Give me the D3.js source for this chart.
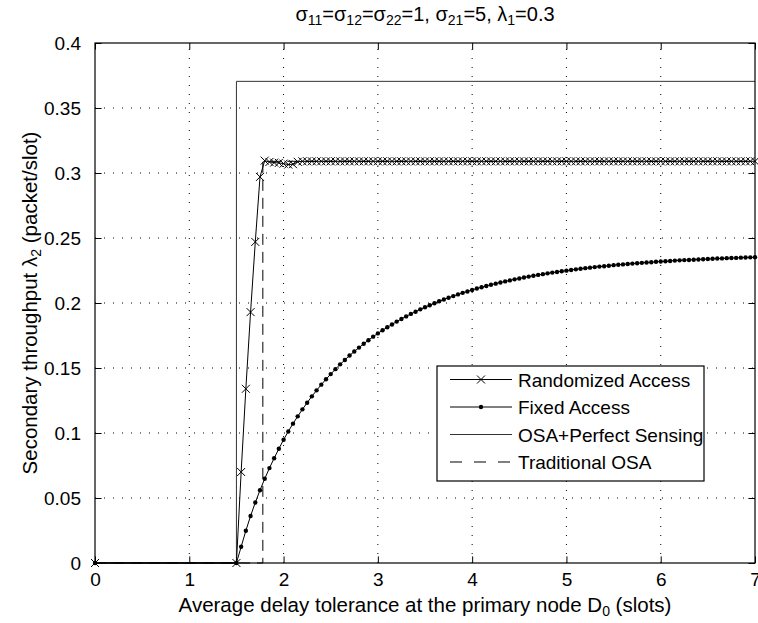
<!DOCTYPE html>
<html>
<head>
<meta charset="utf-8">
<style>
    body { margin: 0; background: #fff; }
    text { font-family: "Liberation Sans", Arial, sans-serif; fill: #000; }
    .tick text { font-size: 19px; }
    .grid line { stroke: #000; stroke-width: 1; stroke-dasharray: 1,8; }
</style>
<script src="https://d3js.org/d3.v7.min.js"></script>
</head>
<body>
<svg width="758" height="623"></svg>
<script>
    // D0 grid (slots) used by the simulated curves
    var d0 = [1.5, 1.55, 1.6, 1.65, 1.7, 1.75, 1.8, 1.85, 1.9, 1.95,
              2, 2.05, 2.1, 2.15, 2.2, 2.25, 2.3, 2.35, 2.4, 2.45,
              2.5, 2.55, 2.6, 2.65, 2.7, 2.75, 2.8, 2.85, 2.9, 2.95,
              3, 3.05, 3.1, 3.15, 3.2, 3.25, 3.3, 3.35, 3.4, 3.45,
              3.5, 3.55, 3.6, 3.65, 3.7, 3.75, 3.8, 3.85, 3.9, 3.95,
              4, 4.05, 4.1, 4.15, 4.2, 4.25, 4.3, 4.35, 4.4, 4.45,
              4.5, 4.55, 4.6, 4.65, 4.7, 4.75, 4.8, 4.85, 4.9, 4.95,
              5, 5.05, 5.1, 5.15, 5.2, 5.25, 5.3, 5.35, 5.4, 5.45,
              5.5, 5.55, 5.6, 5.65, 5.7, 5.75, 5.8, 5.85, 5.9, 5.95,
              6, 6.05, 6.1, 6.15, 6.2, 6.25, 6.3, 6.35, 6.4, 6.45,
              6.5, 6.55, 6.6, 6.65, 6.7, 6.75, 6.8, 6.85, 6.9, 6.95, 7];

    var randomized = [0, 0.070, 0.134, 0.193, 0.247, 0.297, 0.3095, 0.3085, 0.308, 0.3078,
                      0.3072, 0.3065, 0.3068, 0.3086, 0.309, 0.309, 0.309, 0.309, 0.309, 0.309,
                      0.309, 0.309, 0.309, 0.309, 0.309, 0.309, 0.309, 0.309, 0.309, 0.309,
                      0.309, 0.309, 0.309, 0.309, 0.309, 0.309, 0.309, 0.309, 0.309, 0.309,
                      0.309, 0.309, 0.309, 0.309, 0.309, 0.309, 0.309, 0.309, 0.309, 0.309,
                      0.309, 0.309, 0.309, 0.309, 0.309, 0.309, 0.309, 0.309, 0.309, 0.309,
                      0.309, 0.309, 0.309, 0.309, 0.309, 0.309, 0.309, 0.309, 0.309, 0.309,
                      0.309, 0.309, 0.309, 0.309, 0.309, 0.309, 0.309, 0.309, 0.309, 0.309,
                      0.309, 0.309, 0.309, 0.309, 0.309, 0.309, 0.309, 0.309, 0.309, 0.309,
                      0.309, 0.309, 0.309, 0.309, 0.309, 0.309, 0.309, 0.309, 0.309, 0.309,
                      0.309, 0.309, 0.309, 0.309, 0.309, 0.309, 0.309, 0.309, 0.309, 0.309, 0.309];

    var fixed = [0, 0.0125, 0.0248, 0.0362, 0.0465, 0.0560, 0.0648, 0.0730, 0.0806, 0.0879,
                 0.0948, 0.1012, 0.1072, 0.1128, 0.1182, 0.1233, 0.1282, 0.1328, 0.1372, 0.1413,
                 0.1453, 0.1491, 0.1528, 0.1562, 0.1596, 0.1627, 0.1657, 0.1686, 0.1714, 0.1741,
                 0.1766, 0.1790, 0.1813, 0.1835, 0.1857, 0.1877, 0.1897, 0.1916, 0.1933, 0.1951,
                 0.1967, 0.1983, 0.1998, 0.2013, 0.2027, 0.2040, 0.2053, 0.2066, 0.2078, 0.2089,
                 0.2100, 0.2111, 0.2121, 0.2131, 0.2140, 0.2149, 0.2158, 0.2166, 0.2174, 0.2182,
                 0.2189, 0.2196, 0.2203, 0.2210, 0.2216, 0.2222, 0.2228, 0.2234, 0.2239, 0.2244,
                 0.2249, 0.2254, 0.2259, 0.2263, 0.2268, 0.2272, 0.2276, 0.2280, 0.2283, 0.2287,
                 0.2291, 0.2294, 0.2297, 0.2300, 0.2303, 0.2306, 0.2309, 0.2311, 0.2314, 0.2317,
                 0.2319, 0.2321, 0.2323, 0.2326, 0.2328, 0.2330, 0.2331, 0.2333, 0.2335, 0.2337,
                 0.2338, 0.2340, 0.2342, 0.2343, 0.2345, 0.2346, 0.2347, 0.2349, 0.2350, 0.2351, 0.2352];

    // step curves: corner points
    var perfectX = [0, 1.5, 1.5, 7];
    var perfectY = [0, 0, 0.3705, 0.3705];
    var traditionalX = [0, 1.78, 1.78, 7];
    var traditionalY = [0, 0, 0.309, 0.309];

    var xTicks = [0, 1, 2, 3, 4, 5, 6, 7];
    var yTicks = [0, 0.05, 0.1, 0.15, 0.2, 0.25, 0.3, 0.35, 0.4];
    var yTickLabels = ["0", "0.05", "0.1", "0.15", "0.2", "0.25", "0.3", "0.35", "0.4"];
    var legendNames = ["Randomized Access", "Fixed Access", "OSA+Perfect Sensing", "Traditional OSA"];

    var svg = d3.select("svg"),
        pL = 95, pR = 755, pT = 43, pB = 563;

    var x = d3.scaleLinear().domain([0, 7]).range([pL, pR]);
    var y = d3.scaleLinear().domain([0, 0.4]).range([pB, pT]);

    // grid
    var grid = svg.append("g").attr("class", "grid");
    grid.selectAll(".gx").data(xTicks.slice(1, -1)).enter().append("line")
        .attr("x1", d => x(d)).attr("x2", d => x(d))
        .attr("y1", pB).attr("y2", pT);
    grid.selectAll(".gy").data(yTicks.slice(1, -1)).enter().append("line")
        .attr("y1", d => y(d)).attr("y2", d => y(d))
        .attr("x1", pL).attr("x2", pR);

    // axes, ticks pointing inward on all four sides
    var tl = 6.6;
    svg.append("g").attr("transform", "translate(0," + pB + ")")
       .call(d3.axisBottom(x).tickValues(xTicks).tickSizeInner(-tl).tickSizeOuter(0).tickPadding(10).tickFormat(d3.format("d")));
    svg.append("g").attr("transform", "translate(0," + pT + ")")
       .call(d3.axisTop(x).tickValues(xTicks).tickSizeInner(-tl).tickSizeOuter(0).tickFormat(""));
    svg.append("g").attr("transform", "translate(" + pL + ",0)")
       .call(d3.axisLeft(y).tickValues(yTicks).tickSizeInner(-tl).tickSizeOuter(0).tickPadding(14)
             .tickFormat((d, i) => yTickLabels[i]));
    svg.append("g").attr("transform", "translate(" + pR + ",0)")
       .call(d3.axisRight(y).tickValues(yTicks).tickSizeInner(-tl).tickSizeOuter(0).tickFormat(""));
    svg.selectAll(".domain").remove();
    svg.selectAll(".tick line").attr("stroke", "#000");
    svg.selectAll(".tick text").attr("fill", "#000").style("font-family", "Liberation Sans, Arial, sans-serif");

    // curves
    function pts(xs, ys) { return xs.map((v, i) => [v, ys[i]]); }
    var line = d3.line().x(d => x(d[0])).y(d => y(d[1]));

    var randPts = [[0, 0]].concat(pts(d0, randomized));
    var fixPts = [[0, 0]].concat(pts(d0, fixed));

    svg.append("path").datum(pts(perfectX, perfectY)).attr("d", line)
       .attr("fill", "none").attr("stroke", "#333").attr("stroke-width", 1);
    svg.append("path").datum(pts(traditionalX, traditionalY)).attr("d", line)
       .attr("fill", "none").attr("stroke", "#000").attr("stroke-width", 1).attr("stroke-dasharray", "11,7");
    svg.append("path").datum(fixPts).attr("d", line)
       .attr("fill", "none").attr("stroke", "#000").attr("stroke-width", 1);
    svg.append("path").datum(randPts).attr("d", line)
       .attr("fill", "none").attr("stroke", "#000").attr("stroke-width", 1);

    svg.append("g").selectAll("circle").data(fixPts).enter().append("circle")
       .attr("cx", d => x(d[0])).attr("cy", d => y(d[1])).attr("r", 2.2).attr("fill", "#000");

    function cross(sel, s) {
        sel.append("path").attr("d", "M" + (-s) + "," + (-s) + "L" + s + "," + s + "M" + (-s) + "," + s + "L" + s + "," + (-s))
           .attr("stroke", "#000").attr("stroke-width", 1).attr("fill", "none");
    }
    svg.append("g").selectAll("g").data(randPts).enter().append("g")
       .attr("transform", d => "translate(" + x(d[0]) + "," + y(d[1]) + ")")
       .call(cross, 4);

    // axes box
    svg.append("rect").attr("x", pL).attr("y", pT).attr("width", pR - pL).attr("height", pB - pT)
       .attr("fill", "none").attr("stroke", "#000").attr("stroke-width", 1.2);

    // legend
    var lg = svg.append("g").attr("transform", "translate(437,366)");
    lg.append("rect").attr("width", 267).attr("height", 115).attr("fill", "#fff").attr("stroke", "#000").attr("stroke-width", 1.2);
    legendNames.forEach(function(name, i) {
        var cy = 13.5 + i * 27.5;
        var l = lg.append("line").attr("x1", 13).attr("x2", 75).attr("y1", cy).attr("y2", cy)
                  .attr("stroke", i === 2 ? "#333" : "#000").attr("stroke-width", 1);
        if (i === 3) l.attr("stroke-dasharray", "12,12");
        if (i === 0) lg.append("g").attr("transform", "translate(44," + cy + ")").call(cross, 4);
        if (i === 1) lg.append("circle").attr("cx", 44).attr("cy", cy).attr("r", 2.2).attr("fill", "#000");
        lg.append("text").attr("x", 81).attr("y", cy + 7).attr("font-size", 19).text(name);
    });

    // title
    var t = svg.append("text").attr("x", (pL + pR) / 2).attr("y", 21).attr("text-anchor", "middle").attr("font-size", 20);
    function part(txt, sub) {
        t.append("tspan").text(txt);
        if (sub) t.append("tspan").attr("baseline-shift", "-30%").attr("font-size", 14).text(sub);
    }
    part("\u03c3", "11"); part("=\u03c3", "12"); part("=\u03c3", "22"); part("=1, \u03c3", "21"); part("=5, \u03bb", "1"); part("=0.3");

    // x label
    var xl = svg.append("text").attr("x", (pL + pR) / 2).attr("y", 612).attr("text-anchor", "middle").attr("font-size", 20.5);
    xl.append("tspan").text("Average delay tolerance at the primary node D");
    xl.append("tspan").attr("baseline-shift", "-30%").attr("font-size", 14).text("0");
    xl.append("tspan").text(" (slots)");

    // y label
    var yl = svg.append("text").attr("transform", "translate(37," + (pT + pB) / 2 + ") rotate(-90)")
                .attr("text-anchor", "middle").attr("font-size", 20.5);
    yl.append("tspan").text("Secondary throughput \u03bb");
    yl.append("tspan").attr("baseline-shift", "-30%").attr("font-size", 14).text("2");
    yl.append("tspan").text(" (packet/slot)");
</script>
</body>
</html>
